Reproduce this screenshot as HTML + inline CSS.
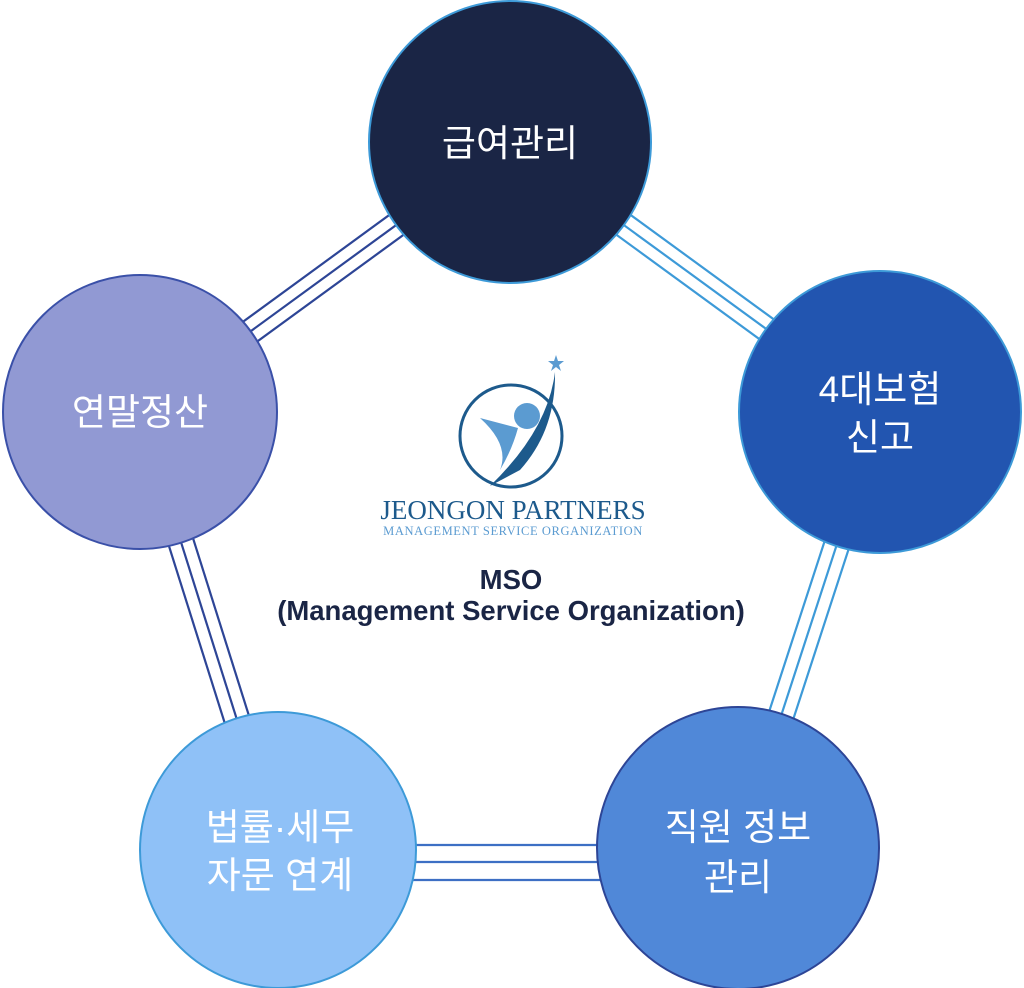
<!DOCTYPE html>
<html><head><meta charset="utf-8"><style>
html,body{margin:0;padding:0;background:#fff;width:1024px;height:988px;overflow:hidden}
svg{display:block}
text{font-family:"Liberation Sans","Noto Sans CJK KR",sans-serif}
</style></head><body>
<svg width="1024" height="988" viewBox="0 0 1024 988">
<g stroke-width="2.2" fill="none">
<g stroke="#2d4596">
<line x1="510" y1="142" x2="140" y2="412" transform="translate(-7,-10)"/>
<line x1="510" y1="142" x2="140" y2="412"/>
<line x1="510" y1="142" x2="140" y2="412" transform="translate(7,10)"/>
</g>
<g stroke="#3d9ad8">
<line x1="510" y1="142" x2="880" y2="412" transform="translate(7,-10)"/>
<line x1="510" y1="142" x2="880" y2="412"/>
<line x1="510" y1="142" x2="880" y2="412" transform="translate(-7,10)"/>
</g>
<g stroke="#3d9ad8">
<line x1="880" y1="412" x2="738" y2="848" transform="translate(-12,-4)"/>
<line x1="880" y1="412" x2="738" y2="848"/>
<line x1="880" y1="412" x2="738" y2="848" transform="translate(12,4)"/>
</g>
<g stroke="#3d6fc4">
<line x1="278" y1="845" x2="738" y2="845"/>
<line x1="278" y1="862" x2="738" y2="862"/>
<line x1="278" y1="880" x2="738" y2="880"/>
</g>
<g stroke="#2d4596">
<line x1="140" y1="412" x2="278" y2="850" transform="translate(-12,4)"/>
<line x1="140" y1="412" x2="278" y2="850"/>
<line x1="140" y1="412" x2="278" y2="850" transform="translate(12,-4)"/>
</g>
</g>
<g stroke-width="2">
<circle cx="510" cy="142" r="141" fill="#1a2545" stroke="#3d9ad8"/>
<circle cx="140" cy="412" r="137" fill="#9199d3" stroke="#3a50a8"/>
<circle cx="880" cy="412" r="141" fill="#2255b0" stroke="#3d9ad8"/>
<circle cx="278" cy="850" r="138" fill="#8fc1f7" stroke="#3d9ad8"/>
<circle cx="738" cy="848" r="141" fill="#5088d8" stroke="#2d4596"/>
</g>
<g fill="#fff" font-size="37" text-anchor="middle">
<text x="510" y="156">급여관리</text>
<text x="140" y="425">연말정산</text>
<text x="880" y="402">4대보험</text>
<text x="880" y="450">신고</text>
<text x="280" y="840">법률·세무</text>
<text x="280" y="888">자문 연계</text>
<text x="738" y="840">직원 정보</text>
<text x="738" y="890">관리</text>
</g>
<circle cx="511" cy="436" r="51" fill="none" stroke="#1d5a8c" stroke-width="3"/>
<circle cx="527" cy="416" r="13" fill="#5b9bd1"/>
<path d="M480 418 L518 428 Q512 450 500 470 Q510 445 480 418Z" fill="#5b9bd1"/>
<path d="M555 372 Q548 430 490 486 L520 470 Q556 430 555 372Z" fill="#1d5a8c"/>
<polygon points="556,355 558,361 564,361 559,365 561,371 556,367 551,371 553,365 548,361 554,361" fill="#5b9bd1"/>
<text x="513" y="519" text-anchor="middle" font-size="27" fill="#1d5a8c" style="font-family:'Liberation Serif',serif">JEONGON PARTNERS</text>
<text x="513" y="535" text-anchor="middle" font-size="12.5" fill="#5b9bd1" style="font-family:'Liberation Serif',serif" letter-spacing="0.6">MANAGEMENT SERVICE ORGANIZATION</text>
<g fill="#1a2545" font-size="27.5" font-weight="bold" text-anchor="middle">
<text x="511" y="589">MSO</text>
<text x="511" y="620">(Management Service Organization)</text>
</g>
</svg>
</body></html>
